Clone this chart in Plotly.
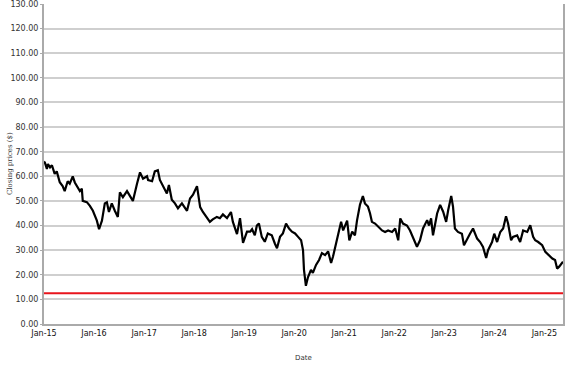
import plotly.graph_objects as go

dates = [
    "2015-01-01", "2015-01-08", "2015-01-22", "2015-01-30", "2015-02-14", "2015-02-28", "2015-03-20", "2015-04-04",
    "2015-04-26", "2015-05-17", "2015-06-01", "2015-06-23", "2015-07-08", "2015-07-30", "2015-08-14", "2015-08-29",
    "2015-09-20", "2015-10-04", "2015-10-11", "2015-11-10", "2015-12-02", "2015-12-24",
    "2016-01-08", "2016-01-22", "2016-02-07", "2016-02-14", "2016-02-28", "2016-03-20", "2016-04-04", "2016-04-19",
    "2016-05-10", "2016-06-01", "2016-06-23", "2016-07-08", "2016-07-30", "2016-08-29", "2016-09-20", "2016-10-11",
    "2016-11-10", "2016-12-02", "2016-12-24",
    "2017-01-22", "2017-01-30", "2017-02-28", "2017-03-20", "2017-04-11", "2017-04-26", "2017-05-17", "2017-06-16",
    "2017-07-01", "2017-07-22", "2017-08-14", "2017-09-05", "2017-10-04", "2017-10-26", "2017-11-10", "2017-12-02",
    "2017-12-24",
    "2018-01-22", "2018-01-30", "2018-02-14", "2018-03-06", "2018-04-04", "2018-04-26", "2018-05-17", "2018-06-16",
    "2018-07-08", "2018-07-30", "2018-08-29", "2018-09-27", "2018-10-11", "2018-11-10", "2018-12-02", "2018-12-24",
    "2019-01-22", "2019-02-14", "2019-02-28", "2019-03-20", "2019-04-04", "2019-04-19", "2019-05-10", "2019-06-01",
    "2019-06-23", "2019-07-22", "2019-08-14", "2019-08-29", "2019-09-20", "2019-10-11", "2019-11-03", "2019-11-25",
    "2019-12-16",
    "2020-01-08", "2020-01-30", "2020-02-21", "2020-03-06", "2020-03-13", "2020-03-27", "2020-04-11", "2020-05-03",
    "2020-05-17", "2020-06-09", "2020-07-01", "2020-07-22", "2020-08-14", "2020-09-05", "2020-09-27", "2020-10-11",
    "2020-11-03", "2020-11-17", "2020-12-09", "2020-12-24",
    "2021-01-22", "2021-02-07", "2021-02-28", "2021-03-20", "2021-04-04", "2021-04-26", "2021-05-17", "2021-06-01",
    "2021-06-23", "2021-07-08", "2021-07-22", "2021-08-14", "2021-09-05", "2021-10-04", "2021-10-26", "2021-11-17",
    "2021-12-16",
    "2022-01-08", "2022-01-30", "2022-02-14", "2022-03-06", "2022-04-04", "2022-04-26", "2022-05-17", "2022-06-16",
    "2022-07-08", "2022-07-30", "2022-08-29", "2022-09-12", "2022-09-27", "2022-10-11", "2022-11-10", "2022-12-02",
    "2022-12-24",
    "2023-01-15", "2023-01-30", "2023-02-21", "2023-03-06", "2023-03-20", "2023-04-11", "2023-04-26", "2023-05-10",
    "2023-05-25", "2023-06-16", "2023-07-08", "2023-07-30", "2023-08-29", "2023-09-20", "2023-10-11", "2023-11-03",
    "2023-11-17", "2023-12-16",
    "2024-01-01", "2024-01-22", "2024-02-14", "2024-03-06", "2024-03-27", "2024-04-11", "2024-05-03", "2024-05-17",
    "2024-06-16", "2024-07-08", "2024-07-30", "2024-08-29", "2024-09-20", "2024-10-11", "2024-10-26", "2024-11-17",
    "2024-12-16",
    "2025-01-08", "2025-01-30", "2025-02-28", "2025-03-20", "2025-04-04", "2025-04-19", "2025-05-10", "2025-05-17",
]

closing_prices = [
    66.0, 65.5, 63.0, 65.0, 63.6, 64.5, 61.0, 62.0,
    57.6, 56.0, 54.0, 58.0, 57.0, 60.0, 57.5, 56.0,
    54.0, 55.0, 50.0, 49.5, 48.0, 46.0,
    44.0, 42.0, 38.5, 40.0, 42.0, 49.0, 49.5, 45.5,
    49.0, 46.0, 43.5, 53.5, 51.5, 54.0, 52.0, 50.0,
    57.0, 61.6, 59.0,
    60.0, 58.5, 58.0, 62.0, 62.5, 58.5, 56.0, 53.0,
    56.5, 50.5, 49.0, 47.0, 49.0, 47.5, 46.0, 51.0,
    52.5,
    56.0, 52.5, 47.5, 45.5, 43.0, 41.5, 42.5, 43.5,
    43.0, 44.5, 43.0, 45.5, 41.5, 36.5, 43.0, 33.0,
    37.5, 37.5, 38.5, 36.0, 40.0, 40.8, 35.4, 33.4,
    36.8, 36.0, 32.6, 30.8, 35.4, 36.8, 40.8, 38.8,
    37.5,
    36.8, 35.4, 34.0, 30.0, 22.0, 15.5, 19.0, 22.0,
    20.8, 24.0, 26.0, 28.8, 28.0, 29.5, 24.8, 27.4,
    32.7, 36.0, 41.5, 38.0,
    42.0, 34.0, 37.5, 36.0, 42.0, 48.5, 52.0, 49.0,
    47.7, 45.0, 41.5, 40.8, 39.5, 38.0, 37.4, 38.0,
    37.4,
    38.8, 34.0, 42.9, 40.8, 40.0, 38.0, 35.4, 31.4,
    34.0, 38.8, 42.2, 40.0, 42.9, 36.0, 44.9, 48.4,
    45.6,
    41.5, 46.3, 52.0, 47.7, 38.8, 37.4, 37.0, 36.7,
    32.0, 34.7, 36.7, 38.8, 34.7, 33.3, 31.3, 26.8,
    30.0, 33.3,
    36.7, 33.3, 37.4, 38.8, 43.8, 40.8, 34.0, 35.4,
    36.0, 33.3, 38.0, 37.4, 40.1, 35.4, 34.0, 33.3,
    32.0,
    29.3, 28.0, 26.6, 26.0, 22.5, 23.3, 24.7, 25.3,
]

threshold = 12.5
tick_dates = ["2015-01-01", "2016-01-01", "2017-01-01", "2018-01-01", "2019-01-01", "2020-01-01",
              "2021-01-01", "2022-01-01", "2023-01-01", "2024-01-01", "2025-01-01"]
y_ticks = [0, 10, 20, 30, 40, 50, 60, 70, 80, 90, 100, 110, 120, 130]

fig = go.Figure()
fig.add_trace(go.Scatter(x=dates, y=closing_prices, mode="lines",
                         line=dict(color="black", width=2.2), showlegend=False))
fig.add_trace(go.Scatter(x=[dates[0], dates[-1]], y=[threshold, threshold], mode="lines",
                         line=dict(color="#e8141c", width=2), showlegend=False))

fig.update_layout(
    width=577, height=367,
    margin=dict(l=44, r=14, t=4, b=43),
    paper_bgcolor="white", plot_bgcolor="white",
    font=dict(family="DejaVu Sans", size=8, color="#222"),
    xaxis=dict(
        range=[dates[0], dates[-1]], automargin=False,
        tickmode="array", tickvals=tick_dates, tickformat="%b-%y",
        showgrid=False, showline=True, linecolor="#aaa", linewidth=2,
        ticks="", tickfont=dict(size=8, color="#111"), ticklabeloverflow="allow",
    ),
    yaxis=dict(
        range=[0, 130], automargin=False, tickmode="array", tickvals=y_ticks, tickformat=".2f",
        showgrid=True, gridcolor="#cfcfcf", gridwidth=1.5,
        showline=True, linecolor="#aaa", linewidth=2, mirror=True,
        ticks="outside", ticklen=2, tickcolor="#aaa",
        tickfont=dict(size=8, color="#333"), ticklabeloverflow="allow",
        zeroline=False,
    ),
    annotations=[
        dict(text="Date", xref="paper", yref="paper", x=0.5, y=0, yshift=-34,
             xanchor="center", yanchor="middle", showarrow=False,
             font=dict(size=7, color="#333")),
        dict(text="Closing prices ($)", xref="paper", yref="paper", x=0, y=0.5, xshift=-34,
             xanchor="center", yanchor="middle", textangle=-90, showarrow=False,
             font=dict(family="DejaVu Serif", size=7, color="#333")),
    ],
)

fig.write_html("out.html", config={"displayModeBar": False},
               post_script="document.body.style.margin='0';")
